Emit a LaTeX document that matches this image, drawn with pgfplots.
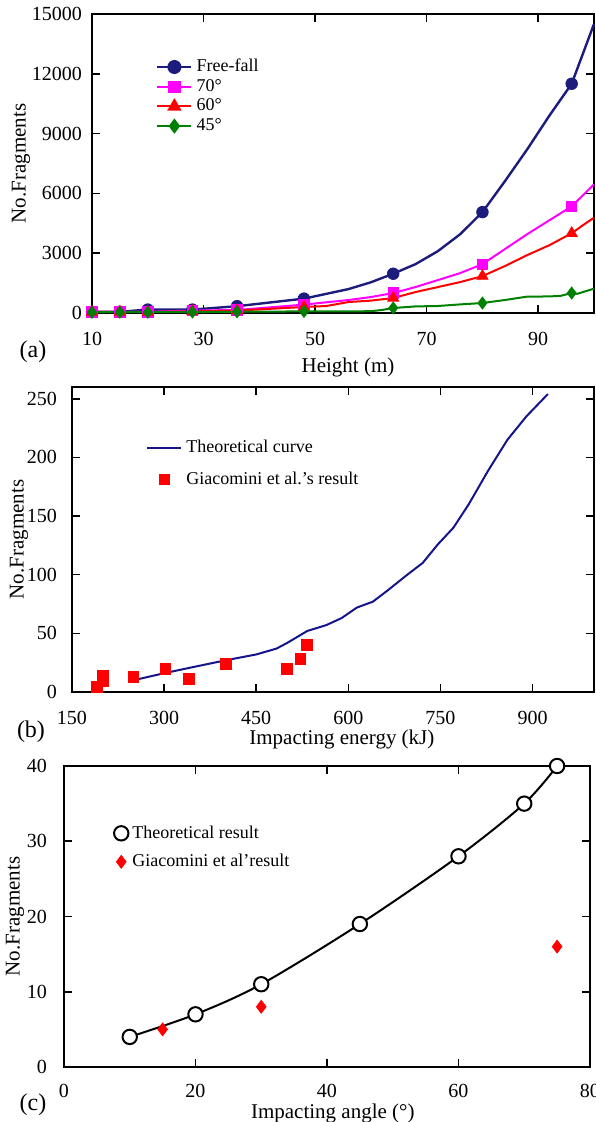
\documentclass[border=0pt]{standalone}
\usepackage{fontspec}
\setmainfont{Liberation Serif}
\usepackage{pgfplots}
\pgfplotsset{compat=1.18}
\definecolor{ffc}{RGB}{28,28,125}
\definecolor{mag}{RGB}{255,0,255}
\definecolor{rd}{RGB}{255,0,0}
\definecolor{gr}{RGB}{0,128,0}
\definecolor{bl}{RGB}{20,20,140}
\begin{document}
\begin{tikzpicture}
\useasboundingbox (0,0) rectangle (297.5pt,561pt);
\pgfplotsset{
  every axis/.append style={
    scale only axis, anchor=south west, clip=false,
    axis line style={line width=1pt},
    tick style={black, line width=0.8pt},
    tick align=inside, major tick length=4pt,
    tick label style={font=\fontsize{10}{11}\selectfont},
    label style={font=\fontsize{10.5}{12}\selectfont},
    /pgf/number format/assume math mode=true,
    /pgf/number format/set thousands separator={},
    scaled ticks=false,
    legend cell align=left,
  }
}
% ---------------- (a)
\begin{axis}[at={(46pt,404.5pt)}, width=251pt, height=149.5pt,
  axis line style={line width=1.2pt},
  xmin=10, xmax=100, ymin=0, ymax=15000,
  xtick={10,30,50,70,90}, ytick={0,3000,6000,9000,12000,15000},
  xlabel={Height (m)}, ylabel={No.Fragments},
  x label style={at={(axis description cs:0.51,-0.1806)}, anchor=center},
  y label style={at={(axis description cs:-0.1414,0.5)}, anchor=center},
  xticklabel style={yshift=-6pt}, yticklabel style={xshift=-1.5pt},
  legend style={draw=none, fill=none, at={(axis description cs:0.115,0.877)}, anchor=north west,
    font=\fontsize{9}{10}\selectfont, row sep=-1.7pt}]
\addlegendimage{ffc, line width=1.2pt, mark=*, mark size=2.9pt}
\addlegendentry{Free-fall}
\addlegendimage{mag, line width=1pt, mark=square*, mark size=2.6pt}
\addlegendentry{70°}
\addlegendimage{rd, line width=1pt, mark=triangle*, mark size=3.2pt}
\addlegendentry{60°}
\addlegendimage{gr, line width=1pt, mark=diamond*, mark size=3pt}
\addlegendentry{45°}
\addplot[ffc, line width=1.2pt, forget plot] coordinates {
(10,50) (15,60) (20,170) (28,170) (36,340) (48,720) (56,1200) (60,1540) (64,1970) (68,2450) (72,3100) (76,3950) (80,5060) (84,6600) (88,8200) (92,9900) (96,11500) (98,13000) (100,14500)};
\addplot[ffc, only marks, mark=*, mark size=2.9pt, forget plot] coordinates {
(10,50) (15,60) (20,170) (28,170) (36,340) (48,720) (64,1970) (80,5060) (96,11500)};
\addplot[mag, line width=1pt, forget plot] coordinates {
(10,60) (15,60) (20,60) (28,120) (36,150) (48,420) (56,650) (60,800) (64,1000) (68,1300) (72,1650) (76,2000) (80,2450) (84,3200) (88,3950) (92,4650) (96,5350) (98,5900) (100,6450)};
\addplot[mag, only marks, mark=square*, mark size=2.6pt, forget plot] coordinates {
(10,60) (15,60) (20,60) (28,120) (36,150) (48,420) (64,1000) (80,2450) (96,5350)};
\addplot[rd, line width=1pt, forget plot] coordinates {
(10,50) (15,50) (20,50) (28,80) (36,120) (48,300) (52,350) (56,550) (60,620) (64,750) (68,1050) (72,1300) (76,1550) (80,1850) (84,2350) (88,2900) (92,3400) (96,4000) (98,4400) (100,4780)};
\addplot[rd, only marks, mark=triangle*, mark size=3.2pt, forget plot] coordinates {
(10,50) (15,50) (20,50) (28,80) (36,120) (48,300) (64,750) (80,1850) (96,4000)};
\addplot[gr, line width=1pt, forget plot] coordinates {
(10,40) (15,40) (20,40) (28,50) (36,60) (48,80) (56,80) (60,90) (62,150) (64,250) (68,330) (72,350) (76,430) (80,500) (84,650) (88,820) (92,830) (94,860) (96,1000) (97,960) (98,1050) (100,1220)};
\addplot[gr, only marks, mark=diamond*, mark size=3pt, forget plot] coordinates {
(10,40) (15,40) (20,40) (28,50) (36,60) (48,80) (64,250) (80,500) (96,1000)};
\end{axis}
% ---------------- (b)
\begin{axis}[at={(36pt,215pt)}, width=261pt, height=152.5pt,
  xmin=150, xmax=1000, ymin=0, ymax=260,
  xtick={150,300,450,600,750,900}, ytick={0,50,100,150,200,250},
  xlabel={Impacting energy (kJ)}, ylabel={No.Fragments},
  x label style={at={(axis description cs:0.517,-0.157)}, anchor=center},
  y label style={at={(axis description cs:-0.1015,0.5)}, anchor=center},
  xticklabel style={yshift=-6pt}, yticklabel style={xshift=-4pt},
  legend style={draw=none, fill=none, at={(axis description cs:0.13,0.853)}, anchor=north west,
    font=\fontsize{9}{10}\selectfont, row sep=4pt}]
\addplot[bl, line width=1pt] coordinates {
(250,10) (300,16) (345,21) (400,27) (450,32) (483,37) (501,42) (533,52) (564,57) (589,63) (614,72) (640,77) (665,87) (696,100) (721,110) (746,126) (771,140) (796,160) (828,189) (859,215) (890,235) (925,254)};
\addlegendentry{Theoretical curve}
\addplot[rd, only marks, mark=square*, mark size=2.7pt] coordinates {
(191,4) (200,9) (200,14) (250,13) (302,20) (340,11) (400,24) (500,20) (522,28) (532,40)};
\addlegendentry{Giacomini et al.'s result}
\end{axis}
% ---------------- (c)
\begin{axis}[at={(32pt,27.5pt)}, width=263pt, height=150.5pt,
  xmin=0, xmax=80, ymin=0, ymax=40,
  xtick={0,20,40,60,80}, ytick={0,10,20,30,40},
  xlabel={Impacting angle (°)}, ylabel={No.Fragments},
  x label style={at={(axis description cs:0.511,-0.1545)}, anchor=center},
  y label style={at={(axis description cs:-0.093,0.5)}, anchor=center},
  xticklabel style={yshift=-5pt}, yticklabel style={xshift=-5pt},
  legend image code/.code={\draw[#1] plot coordinates {(0pt,0pt)};},
  legend style={draw=none, fill=none, at={(axis description cs:0.083,0.83)}, anchor=north west,
    font=\fontsize{9}{10}\selectfont, row sep=2.5pt}]
\addplot[black, line width=1pt, smooth, forget plot] coordinates {
(10,4) (20,7) (30,11) (45,19) (60,28) (70,35) (75,40)};
\addplot[only marks, mark=*, mark size=3.6pt, mark options={fill=white, draw=black, line width=1pt}] coordinates {
(10,4) (20,7) (30,11) (45,19) (60,28) (70,35) (75,40)};
\addlegendentry{Theoretical result}
\addplot[rd, only marks, mark=diamond*, mark size=3.2pt] coordinates {
(15,5) (30,8) (75,16)};
\addlegendentry{Giacomini et al'result}
\end{axis}
\node[font=\fontsize{12}{13}\selectfont] at (16.5pt,385pt) {(a)};
\node[font=\fontsize{12}{13}\selectfont] at (15.5pt,195pt) {(b)};
\node[font=\fontsize{12}{13}\selectfont] at (16.5pt,8.5pt) {(c)};
\end{tikzpicture}
\end{document}
